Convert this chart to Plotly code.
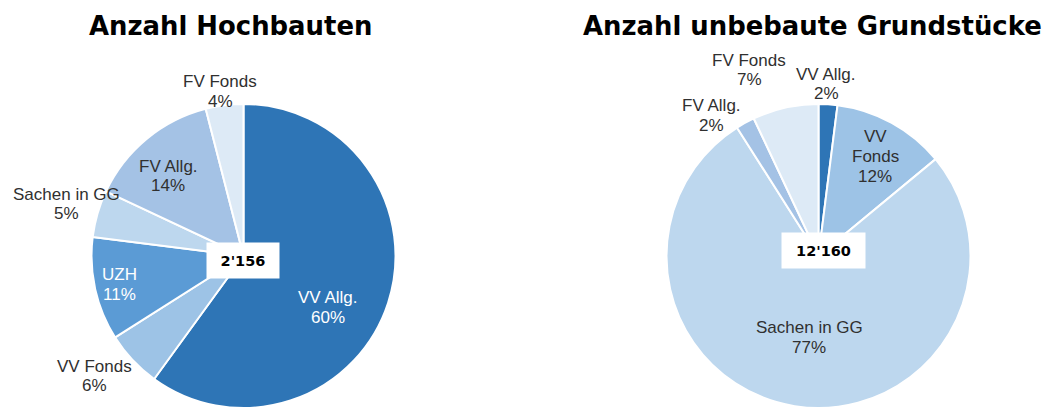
import plotly.graph_objects as go

# ---------------- Data ----------------
categories_left = ["VV Allg.", "VV Fonds", "UZH", "Sachen in GG", "FV Allg.", "FV Fonds"]
values_left = [60, 6, 11, 5, 14, 4]
total_left = "2'156"

categories_right = ["VV Allg.", "VV Fonds", "Sachen in GG", "FV Allg.", "FV Fonds"]
values_right = [2, 12, 77, 2, 7]
total_right = "12'160"

title_left = "Anzahl Hochbauten"
title_right = "Anzahl unbebaute Grundstücke"

# ---------------- Styles / layout ----------------
color_map = {
    "VV Allg.": "#2E75B6",
    "VV Fonds": "#9DC3E6",
    "UZH": "#5B9BD5",
    "Sachen in GG": "#BDD7EE",
    "FV Allg.": "#A4C2E5",
    "FV Fonds": "#DDEAF6",
}

W, H = 1050, 408
R = 152          # pie radius (px)
LINE_GAP = 19.5  # label line spacing (px)
LABEL_FONT = "Liberation Sans, Arial"
DARK = "#303030"

# label anchor (center x, first-line center y) in px, and text colour
left_label_pos = [(328, 297.5), (94, 366), (119, 274.5), (66.5, 194), (168, 166.5), (220, 82)]
left_label_col = ["white", DARK, "white", DARK, DARK, DARK]
right_label_pos = [(826, 74), (875, 137), (809, 327.5), (711, 106), (749, 60)]
right_label_col = [DARK] * 5


def fx(px):
    return px / W


def fy(py):
    return 1 - py / H


def domain(cx, cy):
    cyb = H - cy
    return dict(x=[(cx - R) / W, (cx + R) / W],
                y=[max(0.0, (cyb - R) / H), min(1.0, (cyb + R) / H)])


fig = go.Figure()
fig.add_trace(go.Pie(
    labels=categories_left, values=values_left, sort=False, direction="clockwise",
    rotation=0, textinfo="none",
    marker=dict(colors=[color_map[c] for c in categories_left], line=dict(color="white", width=2)),
    domain=domain(243.5, 256), hoverinfo="label+percent", showlegend=False,
))
fig.add_trace(go.Pie(
    labels=categories_right, values=values_right, sort=False, direction="clockwise",
    rotation=0, textinfo="none",
    marker=dict(colors=[color_map[c] for c in categories_right], line=dict(color="white", width=2)),
    domain=domain(818.5, 256), hoverinfo="label+percent", showlegend=False,
))


def add_label(lines, pos, color):
    x, y0 = pos
    for i, line in enumerate(lines):
        fig.add_annotation(x=fx(x), y=fy(y0 + i * LINE_GAP), xref="paper", yref="paper",
                           text=line, showarrow=False, xanchor="center", yanchor="middle",
                           font=dict(family=LABEL_FONT, size=17, color=color))


for cat, val, pos, col in zip(categories_left, values_left, left_label_pos, left_label_col):
    add_label([cat, f"{val}%"], pos, col)

for cat, val, pos, col in zip(categories_right, values_right, right_label_pos, right_label_col):
    name_lines = cat.split(" ", 1) if cat == "VV Fonds" else [cat]
    add_label(name_lines + [f"{val}%"], pos, col)

# titles
fig.add_annotation(x=fx(230.5), y=fy(26), xref="paper", yref="paper", text=f"<b>{title_left}</b>",
                   xanchor="center", yanchor="middle", showarrow=False,
                   font=dict(family="DejaVu Sans", size=25.9, color="black"))
fig.add_annotation(x=fx(812), y=fy(26), xref="paper", yref="paper", text=f"<b>{title_right}</b>",
                   xanchor="center", yanchor="middle", showarrow=False,
                   font=dict(family="DejaVu Sans", size=25.9, color="black"))

# totals in the centre
fig.add_annotation(x=fx(243), y=fy(260), xref="paper", yref="paper", text=f"<b>{total_left}</b>",
                   xanchor="center", yanchor="middle", showarrow=False,
                   bgcolor="white", width=72, height=35, borderpad=0,
                   font=dict(family="DejaVu Sans", size=14.5, color="black"))
fig.add_annotation(x=fx(823.3), y=fy(250), xref="paper", yref="paper", text=f"<b>{total_right}</b>",
                   xanchor="center", yanchor="middle", showarrow=False,
                   bgcolor="white", width=83, height=35, borderpad=0,
                   font=dict(family="DejaVu Sans", size=14.5, color="black"))

fig.update_layout(width=W, height=H, margin=dict(l=0, r=0, t=0, b=0),
                  paper_bgcolor="white", plot_bgcolor="white")

fig.write_html("out.html", config={"displayModeBar": False},
               post_script="document.body.style.margin='0px';")
